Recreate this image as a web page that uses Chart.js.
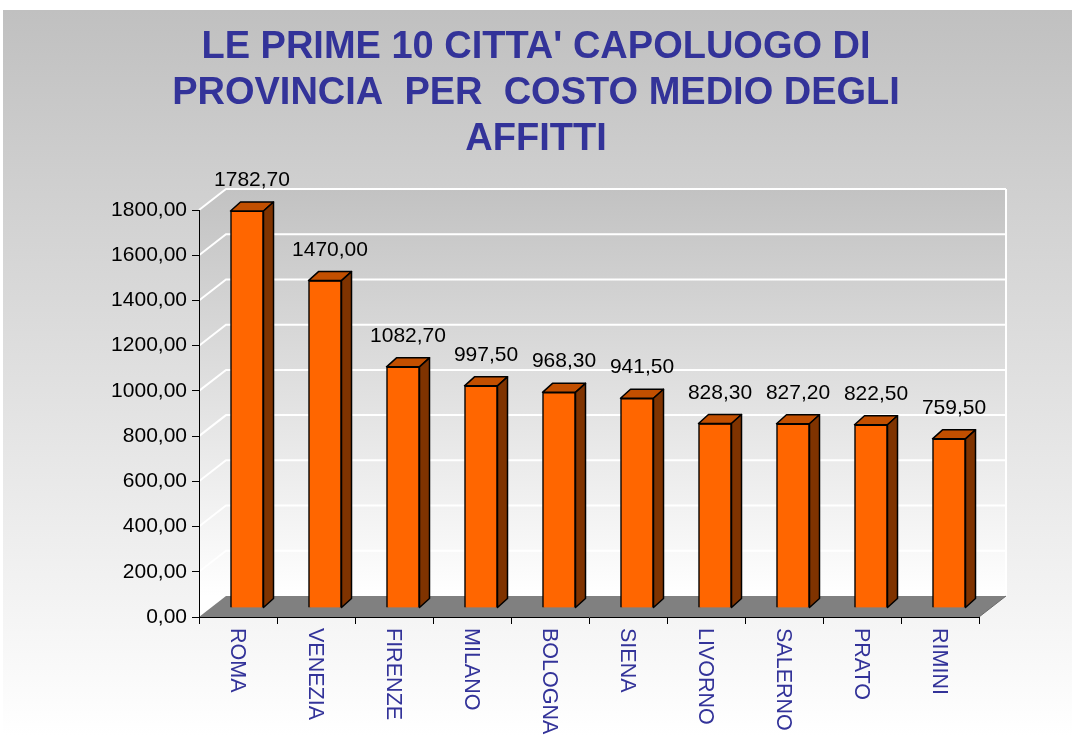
<!DOCTYPE html>
<html>
<head>
<meta charset="utf-8">
<script src="https://cdn.jsdelivr.net/npm/chart.js@4.4.0/dist/chart.umd.min.js"></script>
<style>
  html, body { margin: 0; padding: 0; background: #fff; }
  canvas { display: block; }
</style>
</head>
<body>
<canvas id="bar1" width="1072" height="736"></canvas>
<script>
var cities = ['ROMA', 'VENEZIA', 'FIRENZE', 'MILANO', 'BOLOGNA', 'SIENA', 'LIVORNO', 'SALERNO', 'PRATO', 'RIMINI'];
var costs = [1782.70, 1470.00, 1082.70, 997.50, 968.30, 941.50, 828.30, 827.20, 822.50, 759.50];
var titleLines = ["LE PRIME 10 CITTA' CAPOLUOGO DI", "PROVINCIA  PER  COSTO MEDIO DEGLI", "AFFITTI"];
var yMin = 0, yMax = 1800, yStep = 200;

var font = '"Liberation Sans", Arial, sans-serif';
var wallDx = 27, wallDy = 21;      // depth of floor and walls
var barDx = 9, barDy = 9;          // bars stand inside the floor, not on its front edge
var barSideX = 10, barSideY = 9;   // depth of each bar
var barShrink = 0.985;             // bars are a bit further back, so a bit smaller

function fmt(v) {
    return v.toFixed(2).replace('.', ',');
}

var walls = {
    id: 'walls',
    beforeDraw: function (chart) {
        var ctx = chart.ctx, a = chart.chartArea, ys = chart.scales.y;
        ctx.save();
        ctx.fillStyle = '#fff';
        ctx.fillRect(0, 0, chart.width, chart.height);
        var g = ctx.createLinearGradient(0, 10, 0, chart.height);
        g.addColorStop(0, '#c0c0c0');
        g.addColorStop(1, '#ffffff');
        ctx.fillStyle = g;
        ctx.fillRect(3, 10, chart.width - 3, chart.height - 10);

        // back wall + left wall
        var wg = ctx.createLinearGradient(0, a.top - wallDy, 0, a.bottom - wallDy);
        wg.addColorStop(0, '#c2c2c2');
        wg.addColorStop(1, '#ffffff');
        ctx.fillStyle = wg;
        ctx.fillRect(a.left + wallDx, a.top - wallDy, a.right - a.left, a.bottom - a.top);
        ctx.beginPath();
        ctx.moveTo(a.left, a.bottom);
        ctx.lineTo(a.left, a.top);
        ctx.lineTo(a.left + wallDx, a.top - wallDy);
        ctx.lineTo(a.left + wallDx, a.bottom - wallDy);
        ctx.closePath();
        ctx.fill();

        ctx.strokeStyle = '#fff';
        ctx.lineWidth = 2;
        ys.ticks.forEach(function (t) {
            var y = ys.getPixelForValue(t.value);
            ctx.beginPath();
            ctx.moveTo(a.left, y);
            ctx.lineTo(a.left + wallDx, y - wallDy);
            ctx.lineTo(a.right + wallDx, y - wallDy);
            ctx.stroke();
        });
        ctx.beginPath();
        ctx.moveTo(a.right + wallDx, a.top - wallDy);
        ctx.lineTo(a.right + wallDx, a.bottom - wallDy);
        ctx.stroke();

        // floor
        ctx.fillStyle = '#808080';
        ctx.beginPath();
        ctx.moveTo(a.left, a.bottom);
        ctx.lineTo(a.right, a.bottom);
        ctx.lineTo(a.right + wallDx, a.bottom - wallDy);
        ctx.lineTo(a.left + wallDx, a.bottom - wallDy);
        ctx.closePath();
        ctx.fill();
        ctx.strokeStyle = '#6a6a6a';
        ctx.lineWidth = 1;
        ctx.beginPath();
        ctx.moveTo(a.right, a.bottom);
        ctx.lineTo(a.right + wallDx, a.bottom - wallDy);
        ctx.stroke();

        // title
        ctx.fillStyle = '#333399';
        ctx.font = 'bold 38px ' + font;
        ctx.textAlign = 'center';
        ctx.textBaseline = 'alphabetic';
        titleLines.forEach(function (line, i) {
            ctx.fillText(line, chart.width / 2, 58 + i * 45.8);
        });
        ctx.restore();
    }
};

var bars3d = {
    id: 'bars3d',
    beforeDatasetsDraw: function (chart) {
        var ctx = chart.ctx, b = chart.chartArea.bottom;
        ctx.save();
        ctx.translate(barDx, b - barDy);
        ctx.scale(1, barShrink);
        ctx.translate(0, -b);
    },
    afterDatasetsDraw: function (chart) {
        var ctx = chart.ctx, b = chart.chartArea.bottom, xs = chart.scales.x;
        ctx.restore();
        var ty = function (y) { return b - barDy + (y - b) * barShrink; };
        ctx.save();
        ctx.lineWidth = 1.5;
        ctx.strokeStyle = '#000';
        ctx.lineJoin = 'round';
        chart.getDatasetMeta(0).data.forEach(function (el, i) {
            var p = el.getProps(['x', 'y', 'base', 'width'], true);
            var l = p.x - p.width / 2 + barDx, r = p.x + p.width / 2 + barDx;
            var t = ty(p.y), bt = ty(p.base);
            ctx.beginPath();
            ctx.moveTo(l, t);
            ctx.lineTo(l + barSideX, t - barSideY);
            ctx.lineTo(r + barSideX, t - barSideY);
            ctx.lineTo(r, t);
            ctx.closePath();
            ctx.fillStyle = '#c24f00';
            ctx.fill();
            ctx.stroke();
            ctx.beginPath();
            ctx.moveTo(r, t);
            ctx.lineTo(r + barSideX, t - barSideY);
            ctx.lineTo(r + barSideX, bt - barSideY);
            ctx.lineTo(r, bt);
            ctx.closePath();
            ctx.fillStyle = '#7f3300';
            ctx.fill();
            ctx.stroke();

            ctx.fillStyle = '#000';
            ctx.font = '21px ' + font;
            ctx.textAlign = 'center';
            ctx.textBaseline = 'alphabetic';
            ctx.fillText(fmt(costs[i]), (l + r + barSideX) / 2, t - 25);
        });

        // city names, turned to read downwards
        ctx.fillStyle = '#333399';
        ctx.font = '21.5px ' + font;
        ctx.textAlign = 'left';
        ctx.textBaseline = 'alphabetic';
        cities.forEach(function (c, i) {
            ctx.save();
            ctx.translate(xs.getPixelForValue(i) - 7.5, b + 11);
            ctx.rotate(Math.PI / 2);
            ctx.fillText(c, 0, 0);
            ctx.restore();
        });
        ctx.restore();
    }
};

var barChart = new Chart(document.getElementById('bar1').getContext('2d'), {
    type: 'bar',
    data: {
        labels: cities,
        datasets: [{
            data: costs,
            backgroundColor: '#ff6600',
            borderColor: '#000',
            borderWidth: 1.5,
            barThickness: 33,
            clip: false
        }]
    },
    options: {
        responsive: false,
        animation: false,
        layout: { padding: { left: 0, right: 93, top: 210, bottom: 0 } },
        plugins: {
            legend: { display: false },
            title: { display: false },
            tooltip: { enabled: false }
        },
        scales: {
            x: {
                grid: { drawOnChartArea: false, color: '#000', tickLength: 7, offset: true },
                border: { color: '#000' },
                ticks: { display: false },
                afterFit: function (s) { s.height = 119; }
            },
            y: {
                min: yMin,
                max: yMax,
                ticks: {
                    stepSize: yStep,
                    color: '#000',
                    padding: 5,
                    font: { family: font, size: 21 },
                    callback: function (v) { return fmt(v); }
                },
                grid: { drawOnChartArea: false, color: '#000', tickLength: 7 },
                border: { color: '#000' },
                afterFit: function (s) { s.width = 199; }
            }
        }
    },
    plugins: [walls, bars3d]
});
</script>
</body>
</html>
